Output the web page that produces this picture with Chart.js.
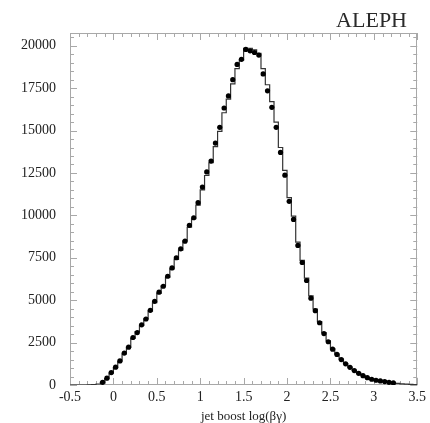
<!DOCTYPE html>
<html>
<head>
<meta charset="utf-8">
<script src="https://cdn.jsdelivr.net/npm/chart.js@4/dist/chart.umd.min.js"></script>
<style>
html,body{margin:0;padding:0;background:#fff;}
#wrap{width:430px;height:423px;}
</style>
</head>
<body>
<div id="wrap"><canvas id="c" width="430" height="423"></canvas></div>
<script>
// Bin centres of log(beta*gamma), bin width 0.05
const binCenters = [
 -0.475,-0.425,-0.375,-0.325,-0.275,-0.225,-0.175,-0.125,-0.075,-0.025,
  0.025, 0.075, 0.125, 0.175, 0.225, 0.275, 0.325, 0.375, 0.425, 0.475,
  0.525, 0.575, 0.625, 0.675, 0.725, 0.775, 0.825, 0.875, 0.925, 0.975,
  1.025, 1.075, 1.125, 1.175, 1.225, 1.275, 1.325, 1.375, 1.425, 1.475,
  1.525, 1.575, 1.625, 1.675, 1.725, 1.775, 1.825, 1.875, 1.925, 1.975,
  2.025, 2.075, 2.125, 2.175, 2.225, 2.275, 2.325, 2.375, 2.425, 2.475,
  2.525, 2.575, 2.625, 2.675, 2.725, 2.775, 2.825, 2.875, 2.925, 2.975,
  3.025, 3.075, 3.125, 3.175, 3.225, 3.275, 3.325, 3.375, 3.425, 3.475
];
const binWidth = 0.05;

// Data (points)
const dataValues = [
 null,null,null,null,null,null,null,160,400,730,
 1050,1420,1880,2230,2800,3090,3550,3890,4400,4930,
 5470,5820,6410,6900,7500,8030,8480,9410,9860,10750,
 11670,12560,13200,14260,15190,16330,17040,18000,18900,19200,
 19780,19700,19600,19450,18340,17340,16370,15190,13710,12370,
 10830,9760,8230,7220,6160,5120,4380,3670,3030,2550,
 2110,1800,1500,1250,1040,850,690,550,430,340,
 280,240,200,160,120,null,null,null,null,null
];

// Simulation (histogram)
const mcValues = [
 0,0,0,0,10,30,60,150,380,700,
 1030,1400,1830,2230,2750,3150,3520,3900,4350,4850,
 5400,5850,6350,6850,7400,7950,8500,9300,9800,10600,
 11500,12350,13100,14050,14950,16050,16850,17750,18650,19150,
 19850,19850,19750,19550,18650,17700,16700,15500,14000,12650,
 11050,9950,8420,7350,6300,5250,4480,3740,3090,2600,
 2150,1820,1520,1260,1050,860,700,560,440,350,
 285,235,195,150,120,90,70,50,40,30
];

const xTickValues = [-0.5,0,0.5,1,1.5,2,2.5,3,3.5];
const yTickValues = [0,2500,5000,7500,10000,12500,15000,17500,20000];

const histPoints = binCenters.map((c,i)=>({x:c-binWidth/2,y:mcValues[i]}));
histPoints.push({x:binCenters[binCenters.length-1]+binWidth/2,y:mcValues[mcValues.length-1]});
const dataPoints = binCenters.map((c,i)=>({x:c,y:dataValues[i]})).filter(p=>p.y!==null);

const AX='#a8a8a8';
const frameTicks = {
  id:'frameTicks',
  beforeDatasetsDraw(chart){
    const {ctx, chartArea:a, scales:{x,y}} = chart;
    ctx.save();
    ctx.strokeStyle = AX; ctx.lineWidth = 1;
    ctx.strokeRect(Math.round(a.left)+0.5, Math.round(a.top)+0.5, Math.round(a.width)-1, Math.round(a.height)-1);
    ctx.beginPath();
    for(let k=0;k<=40;k++){
      const v=-0.5+k*0.1; const px=Math.round(x.getPixelForValue(v))+0.5;
      const L = (k%5===0)?7:4;
      ctx.moveTo(px,a.bottom); ctx.lineTo(px,a.bottom-L);
      ctx.moveTo(px,a.top); ctx.lineTo(px,a.top+L);
    }
    for(let k=0;k<=41;k++){
      const v=k*500; const py=Math.round(y.getPixelForValue(v))+0.5;
      if(py<a.top) continue;
      const L = (k%5===0)?7:4;
      ctx.moveTo(a.left,py); ctx.lineTo(a.left+L,py);
      ctx.moveTo(a.right,py); ctx.lineTo(a.right-L,py);
    }
    ctx.stroke();
    ctx.restore();
  },
  afterDraw(chart){
    const ctx=chart.ctx;
    ctx.save();
    ctx.fillStyle='#2a2a2a';
    ctx.font='22px "Liberation Serif"';
    ctx.textAlign='right'; ctx.textBaseline='alphabetic';
    ctx.fillText('ALEPH',407,27);
    ctx.restore();
  }
};

new Chart(document.getElementById('c'),{
  type:'scatter',
  data:{datasets:[
    {type:'line',label:'MC',data:histPoints,stepped:'before',borderColor:'#333',borderWidth:1.2,pointRadius:0,fill:false,order:2},
    {type:'scatter',label:'Data',data:dataPoints,pointStyle:'circle',pointRadius:2.6,backgroundColor:'#000',borderColor:'#000',borderWidth:0,order:1}
  ]},
  options:{
    responsive:false,animation:false,
    layout:{padding:{top:33,right:8,left:0,bottom:0}},
    plugins:{legend:{display:false},tooltip:{enabled:false},title:{display:false}},
    scales:{
      x:{type:'linear',min:-0.5,max:3.5,
        afterFit(s){s.height=38;},
        afterBuildTicks(s){s.ticks=xTickValues.map(v=>({value:v}));},
        grid:{display:false,drawTicks:false},border:{display:false},
        ticks:{padding:4,color:'#222',font:{family:'Liberation Serif',size:14},maxRotation:0,autoSkip:false,callback:v=>String(v)},
        title:{display:true,text:'jet boost log(βγ)',color:'#222',font:{family:'Liberation Serif',size:13,lineHeight:1.0},padding:{top:3,bottom:0}}
      },
      y:{type:'linear',min:0,max:20750,
        afterFit(s){s.width=70;},
        afterBuildTicks(s){s.ticks=yTickValues.map(v=>({value:v}));},
        grid:{display:false,drawTicks:false},border:{display:false},
        ticks:{padding:14,color:'#222',font:{family:'Liberation Serif',size:14},autoSkip:false,callback:v=>String(v)}
      }
    }
  },
  plugins:[frameTicks]
});
</script>
</body>
</html>
